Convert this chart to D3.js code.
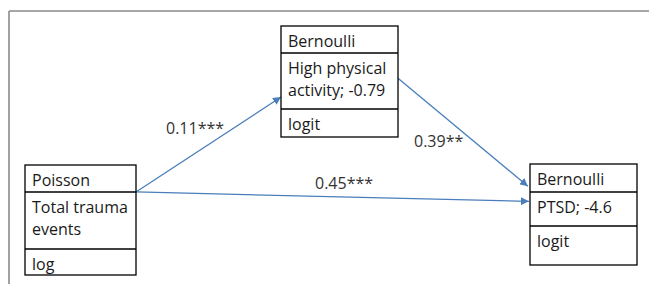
<!DOCTYPE html>
<html lang="en">
<head>
    <meta charset="UTF-8">
    <title>Path model</title>
    <style type="text/css">
        body {
            margin: 0;
            background: #fff;
        }
        svg {
            display: block;
            font-family: "Open Sans", "Noto Sans", sans-serif;
        }
        .box rect {
            fill: #fff;
            stroke: #000;
            stroke-width: 1.3px;
        }
        .box line {
            stroke: #000;
            stroke-width: 1.3px;
        }
        .box text {
            fill: #1a1a1a;
            font-size: 16px;
        }
        .path-label {
            fill: #333;
            font-size: 16px;
        }
        .link {
            stroke: #4a7ebb;
            stroke-width: 1.3px;
            fill: none;
        }
    </style>
</head>
<body>
    <div id="chart"></div>
    <script src="https://cdnjs.cloudflare.com/ajax/libs/d3/7.8.5/d3.min.js"></script>
    <script type="text/javascript">
        // model nodes: distribution, variable lines, link function
        var nodeIds = ["trauma", "activity", "ptsd"];
        var distributions = ["Poisson", "Bernoulli", "Bernoulli"];
        var variableLines = [
            ["Total trauma", "events"],
            ["High physical", "activity; -0.79"],
            ["PTSD; -4.6"]
        ];
        var linkFunctions = ["log", "logit", "logit"];

        // paths between nodes and their estimates
        var pathFrom = ["trauma", "activity", "trauma"];
        var pathTo = ["activity", "ptsd", "ptsd"];
        var pathEstimates = ["0.11***", "0.39**", "0.45***"];

        var width = 649;
        var height = 284;

        // layout (pixels) - kept apart from the data
        var layout = {
            trauma:   { x: 25,  y: 165, w: 111, rows: [27, 57, 26] },
            activity: { x: 281, y: 26,  w: 117, rows: [27, 56, 28] },
            ptsd:     { x: 530, y: 164, w: 107, rows: [28, 34, 39] }
        };
        // where each arrow leaves / arrives, as fractions of a box
        var anchors = {
            "trauma>activity": { from: [1, 0.245], to: [0, 0.64] },
            "activity>ptsd":   { from: [1, 0.47],  to: [-0.02, 0.22] },
            "trauma>ptsd":     { from: [1, 0.245], to: [-0.01, 0.37] }
        };
        var labelPos = {
            "trauma>activity": [166, 134],
            "activity>ptsd":   [414, 147],
            "trauma>ptsd":     [315, 189]
        };

        var nodes = nodeIds.map(function(id, i) {
            var l = layout[id];
            var h = d3.sum(l.rows);
            return {
                id: id,
                x: l.x, y: l.y, w: l.w, h: h,
                rows: l.rows,
                sections: [[distributions[i]], variableLines[i], [linkFunctions[i]]]
            };
        });
        var byId = {};
        nodes.forEach(function(n) { byId[n.id] = n; });

        var links = pathFrom.map(function(f, i) {
            var key = f + ">" + pathTo[i];
            var a = byId[f], b = byId[pathTo[i]], an = anchors[key];
            return {
                key: key,
                label: pathEstimates[i],
                x1: a.x + an.from[0] * a.w, y1: a.y + an.from[1] * a.h,
                x2: b.x + an.to[0] * b.w,   y2: b.y + an.to[1] * b.h,
                lx: labelPos[key][0], ly: labelPos[key][1]
            };
        });

        var svg = d3.select("#chart")
            .append("svg")
            .attr("width", width)
            .attr("height", height);

        svg.append("defs").append("marker")
            .attr("id", "arrow")
            .attr("viewBox", "0 0 10 10")
            .attr("refX", 10)
            .attr("refY", 5)
            .attr("markerWidth", 8)
            .attr("markerHeight", 8)
            .attr("markerUnits", "userSpaceOnUse")
            .attr("orient", "auto")
            .append("path")
            .attr("d", "M0,0 L10,5 L0,10 z")
            .attr("fill", "#4a7ebb");

        // frame: top and left rules only
        svg.append("line")
            .attr("x1", 9).attr("y1", 11).attr("x2", width).attr("y2", 11)
            .attr("stroke", "#8a8a8a").attr("stroke-width", 1.6);
        svg.append("line")
            .attr("x1", 9).attr("y1", 11).attr("x2", 9).attr("y2", height)
            .attr("stroke", "#8a8a8a").attr("stroke-width", 1.6);

        svg.selectAll(".link")
            .data(links)
            .enter().append("line")
            .attr("class", "link")
            .attr("x1", d => d.x1).attr("y1", d => d.y1)
            .attr("x2", d => d.x2).attr("y2", d => d.y2)
            .attr("marker-end", "url(#arrow)");

        svg.selectAll(".path-label")
            .data(links)
            .enter().append("text")
            .attr("class", "path-label")
            .attr("x", d => d.lx)
            .attr("y", d => d.ly)
            .text(d => d.label);

        var box = svg.selectAll(".box")
            .data(nodes)
            .enter().append("g")
            .attr("class", "box")
            .attr("transform", d => `translate(${d.x},${d.y})`);

        box.append("rect")
            .attr("width", d => d.w)
            .attr("height", d => d.h);

        box.each(function(d) {
            var g = d3.select(this);
            var top = 0;
            d.sections.forEach(function(lines, si) {
                if (si > 0) {
                    g.append("line")
                        .attr("x1", 0).attr("x2", d.w)
                        .attr("y1", top).attr("y2", top);
                }
                lines.forEach(function(t, li) {
                    g.append("text")
                        .attr("x", 7)
                        .attr("y", top + 21 + li * 22)
                        .text(t);
                });
                top += d.rows[si];
            });
        });
    </script>
</body>
</html>
